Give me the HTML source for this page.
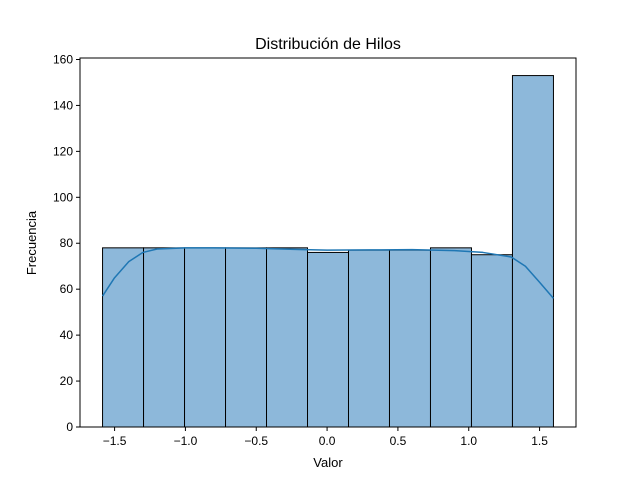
<!DOCTYPE html>
<html><head><meta charset="utf-8"><style>body{margin:0;background:#fff}svg{display:block;font-family:"Liberation Sans","DejaVu Sans",sans-serif}</style></head>
<body>
<svg id="c" width="640" height="480">
<rect width="640" height="480" fill="#fff"/>
<text x="328" y="49" font-size="16" text-anchor="middle">Distribución de Hilos</text>
<text x="328" y="467" font-size="13" text-anchor="middle">Valor</text>
<text x="0" y="0" font-size="13" text-anchor="middle" transform="translate(36,243) rotate(-90)">Frecuencia</text>
<g id="bars"></g><g id="kde"></g><g id="axes"></g>
</svg>
<script>
const counts=[78,78,78,78,78,76,77,77,78,75,153];
const kdeX=[-1.585,-1.5,-1.4,-1.3,-1.2,-1.0,-0.8,-0.5,-0.2,0.0,0.3,0.6,0.9,1.1,1.3,1.4,1.5,1.598];
const kdeY=[57,65,72,76,77.5,78,78,77.8,77.3,77,77.1,77.2,76.8,76,74,70,63,56];
const xTicks=[-1.5,-1.0,-0.5,0.0,0.5,1.0,1.5];
const yTicks=[0,20,40,60,80,100,120,140,160];
const xmin=-1.585,xmax=1.598;
const L=80,R=576,T=58,B=427;
const pad=(xmax-xmin)*0.05;
const xlo=xmin-pad,xhi=xmax+pad,yhi=153*1.05;
const X=v=>L+(v-xlo)/(xhi-xlo)*(R-L);
const Y=v=>B-v/yhi*(B-T);
const NS="http://www.w3.org/2000/svg";
function mk(t,a,p){const e=document.createElementNS(NS,t);for(const k in a)e.setAttribute(k,a[k]);p.appendChild(e);return e;}
const bars=document.getElementById('bars');
const w=(xmax-xmin)/counts.length;
counts.forEach((c,i)=>{
 const x0=X(xmin+i*w),x1=X(xmin+(i+1)*w);
 const r=mk('rect',{x:x0,y:Y(c),width:x1-x0,height:Y(0)-Y(c),fill:'#8db8da',stroke:'#000','stroke-width':1},bars);
 
 
});
const kde=document.getElementById('kde');
const pl=mk('polyline',{points:kdeX.map((x,i)=>X(x)+','+Y(kdeY[i])).join(' '),fill:'none',stroke:'#1f77b4','stroke-width':1.5,'stroke-linejoin':'round'},kde);


const ax=document.getElementById('axes');
const fr=mk('rect',{x:L,y:T,width:R-L,height:B-T,fill:'none',stroke:'#000','stroke-width':1},ax);


xTicks.forEach(t=>{
 mk('line',{x1:X(t),x2:X(t),y1:B,y2:B+4,stroke:'#000'},ax);
 const tx=mk('text',{x:X(t),y:B+18,'font-size':12,'text-anchor':'middle'},ax);
 tx.textContent=t<0?'\u2212'+Math.abs(t).toFixed(1):t.toFixed(1);
 
 
});
yTicks.forEach(t=>{
 mk('line',{x1:L-4,x2:L,y1:Y(t),y2:Y(t),stroke:'#000'},ax);
 const tx=mk('text',{x:L-7,y:Y(t)+4,'font-size':12,'text-anchor':'end'},ax);
 tx.textContent=t;
 
 
});
</script>
</body></html>
